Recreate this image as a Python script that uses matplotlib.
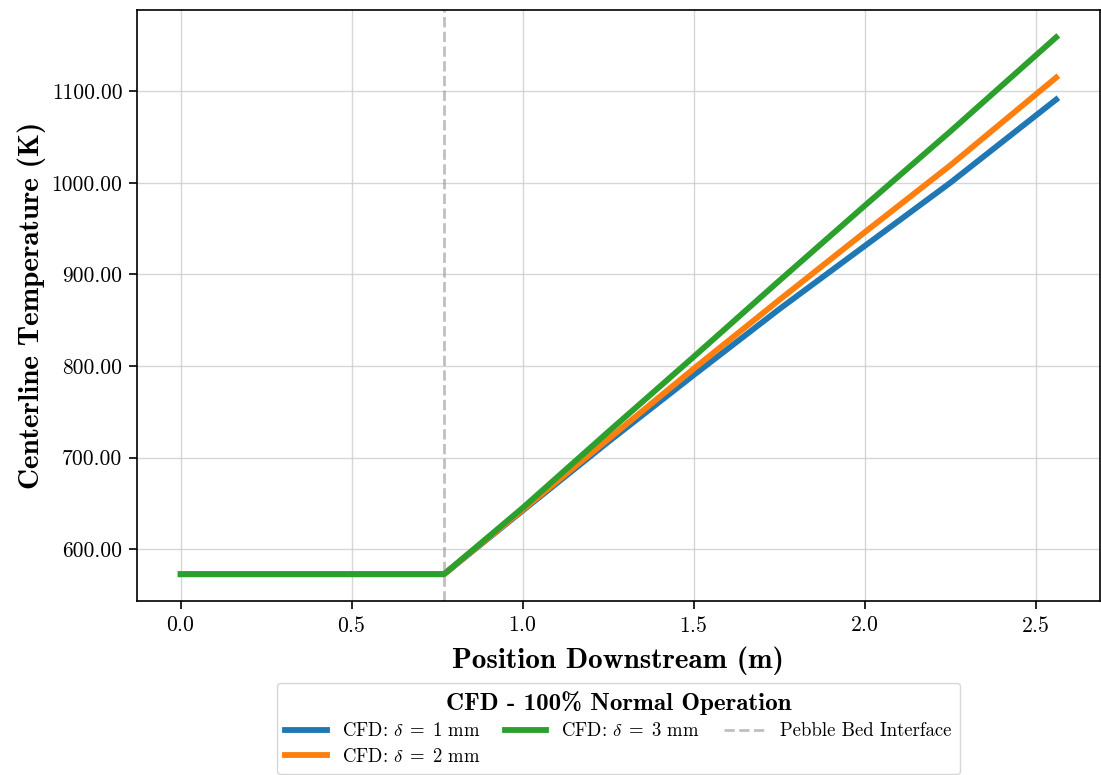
import matplotlib
matplotlib.use("Agg")
import matplotlib.pyplot as plt
from matplotlib.ticker import FormatStrFormatter
from matplotlib.font_manager import FontProperties

plt.rcParams['font.family'] = 'serif'
plt.rcParams['font.serif'] = ['cmr10', 'DejaVu Serif']
plt.rcParams['mathtext.fontset'] = 'cm'
plt.rcParams['axes.formatter.use_mathtext'] = True

# Data
x_pos = [0.0, 0.77, 1.0, 1.25, 1.5, 1.75, 2.0, 2.25, 2.56]
temp_d1 = [572.6, 572.6, 642, 717, 790, 862, 931, 1000, 1091]
temp_d2 = [572.6, 572.6, 643, 720, 797, 872, 946, 1019, 1115]
temp_d3 = [572.6, 572.6, 645, 728, 810, 893, 975, 1056, 1159]
series_labels = [r'CFD: $\delta \;=\; 1$ mm', r'CFD: $\delta \;=\; 2$ mm', r'CFD: $\delta \;=\; 3$ mm']
interface_x = 0.77
interface_label = 'Pebble Bed Interface'
legend_title = 'CFD - 100% Normal Operation'
xlabel = 'Position Downstream (m)'
ylabel = 'Centerline Temperature (K)'

fig = plt.figure(figsize=(11.01, 7.75), dpi=100)
ax = fig.add_axes([0.1244, 0.2245, 0.8746, 0.762])

colors = ['#1f77b4', '#ff7f0e', '#2ca02c']
for ys, lab, c in zip([temp_d1, temp_d2, temp_d3], series_labels, colors):
    ax.plot(x_pos, ys, color=c, lw=4.2, label=lab)
ax.axvline(interface_x, color='gray', ls='--', lw=2, alpha=0.5, label=interface_label)

ax.grid(True, color='#cccccc', lw=1, alpha=0.8)
ax.yaxis.set_major_formatter(FormatStrFormatter('%.2f'))
ax.tick_params(labelsize=15.5, length=5.5, width=1.2, pad=5)
for s in ax.spines.values():
    s.set_linewidth(1.2)

bold = FontProperties(family='cmb10', size=21)
ax.set_xlabel(xlabel, fontproperties=bold, labelpad=8)
ax.set_ylabel(ylabel, fontproperties=bold, labelpad=4)

leg = ax.legend(loc='upper center', bbox_to_anchor=(0.5, -0.138), ncol=3, fontsize=13.5,
                title=legend_title, title_fontproperties=FontProperties(family='cmb10', size=18),
                handlelength=2.2, columnspacing=1.3, labelspacing=0.4, borderpad=0.45,
                frameon=True, borderaxespad=0)

fig.savefig('out.png', dpi=100)
